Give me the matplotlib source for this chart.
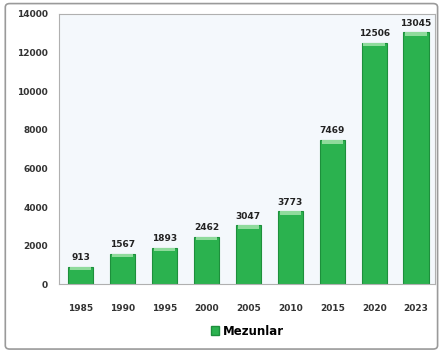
import numpy as np
import matplotlib.pyplot as plt
from matplotlib.patches import FancyBboxPatch, Patch

years = ['1985', '1990', '1995', '2000', '2005', '2010', '2015', '2020', '2023']
mezunlar = [913, 1567, 1893, 2462, 3047, 3773, 7469, 12506, 13045]
yticks = [0, 2000, 4000, 6000, 8000, 10000, 12000, 14000]

fig = plt.figure(figsize=(4.42, 3.58), dpi=100)
fig.patch.set_facecolor('white')

# outer frame
frame = FancyBboxPatch((0.012, 0.025), 0.978, 0.965, boxstyle='round,pad=0,rounding_size=0.01',
                       transform=fig.transFigure, facecolor='none', edgecolor='#9a9a9a', lw=1.2)
fig.patches.append(frame)

ax = fig.add_axes([0.134, 0.206, 0.85, 0.755])
ax.set_facecolor('#f4f8fc')

x = np.arange(len(years))
bars = ax.bar(x, mezunlar, width=0.6, color='#2bb24f', edgecolor='#1d8f3c', linewidth=0.8, zorder=2)
# lighter cap on each bar
for b in bars:
    ax.bar(b.get_x() + b.get_width() / 2, 180, bottom=b.get_height() - 180, width=b.get_width() * 0.85,
           color='#8fdb9c', linewidth=0, zorder=3)

for xi, v in zip(x, mezunlar):
    ax.text(xi, v + 250, str(v), ha='center', va='bottom', fontsize=6.5, fontweight='bold', color='#222222')

ax.set_xlim(-0.51, 8.45)
ax.set_ylim(0, 14000)
ax.set_yticks(yticks)
ax.set_yticklabels([str(t) for t in yticks], fontsize=6.5, fontweight='bold', color='#333333')
ax.set_xticks(x)
ax.set_xticklabels(years, fontsize=6.5, fontweight='bold', color='#333333')
ax.tick_params(axis='x', length=0, pad=14)
ax.tick_params(axis='y', length=0, pad=8)
for s in ax.spines.values():
    s.set_color('#b0b0b0')
    s.set_linewidth(0.8)

ax.legend(handles=[Patch(facecolor='#2bb24f', edgecolor='#1d8f3c', label='Mezunlar')],
          loc='upper center', bbox_to_anchor=(0.5, -0.11), frameon=False,
          prop={'size': 8.5, 'weight': 'bold'}, handlelength=0.7, handleheight=0.7, handletextpad=0.3)

fig.savefig('out.png', dpi=100)
